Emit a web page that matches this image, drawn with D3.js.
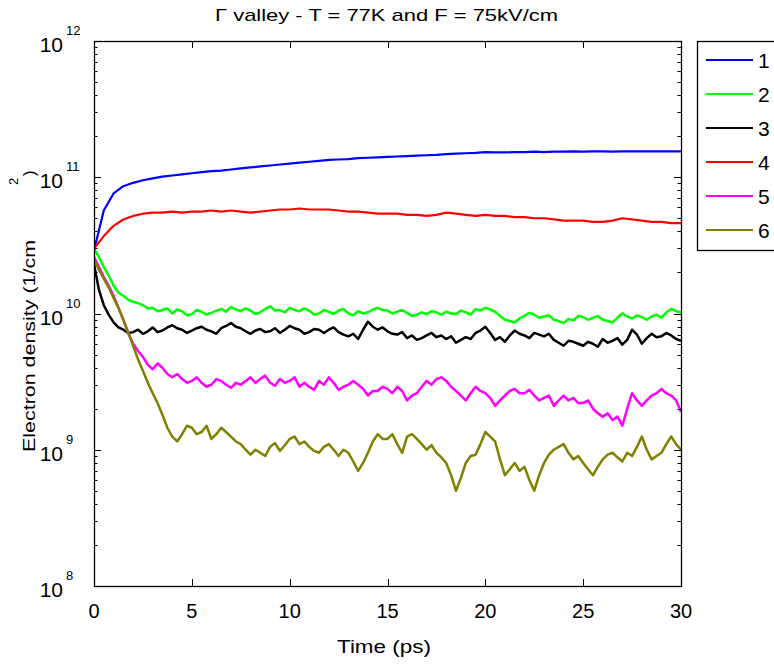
<!DOCTYPE html>
<html>
<head>
<meta charset="utf-8">
<script src="https://cdn.jsdelivr.net/npm/d3@7"></script>
<style>
  html, body { margin: 0; padding: 0; background: #fff; }
  svg { display: block; font-family: "Liberation Sans", Arial, sans-serif; }
</style>
</head>
<body>
<svg id="chart" width="774" height="666"></svg>
<script>
// Sample times (ps): smooth curves every 0.5 ps, noisy curves every 0.25 ps
const timeCoarse = d3.range(0, 30.0001, 0.5);
const timeFine = d3.range(0, 30.0001, 0.25);

// Electron densities in units of 1e9 cm^-2
const densityUnit = 1e9;
const series1 = [29,57,76,86,91,95,98,101,103,105,107,109,111,112,114,116,118,120,122,124,126,128,130,132,134,135,136,138,139,140,141,142,143,144,145,146,148,149,150,151,153,152,152,153,153,154,153,154,154,155,154,155,155,154,155,155,155,155,155,155,155];
const series2 = [30,26,22,19,16,14.2,13.5,12.6,12.2,11.9,11.5,10.9,11.0,10.4,10.6,10.9,10.0,10.7,10.4,9.7,9.9,10.6,10.3,9.8,10.1,10.5,10.8,10.3,11.2,10.7,10.4,10.9,10.5,9.9,10.2,10.8,11.3,10.5,10.6,10.2,11.0,10.6,10.4,10.9,10.5,9.8,10.0,10.6,10.3,9.9,10.5,10.8,10.0,9.7,10.4,10.0,10.2,10.7,11.0,10.6,10.5,10.0,10.3,10.6,10.1,9.6,9.8,10.2,9.9,10.4,10.2,9.8,10.3,10.0,9.9,10.5,10.2,9.8,10.8,10.5,11.0,10.7,10.3,9.6,9.0,8.8,8.6,9.2,9.6,10.1,9.8,9.3,9.5,9.7,9.0,8.8,8.5,9.1,8.9,9.6,9.4,9.0,9.3,9.6,9.0,8.8,8.6,9.3,10.0,9.5,9.2,9.7,9.4,9.0,9.5,9.8,9.3,10.2,10.8,10.4,10.2];
const series3 = [23,15,11.5,9.8,8.6,7.9,7.6,7.2,7.3,7.6,7.1,7.4,7.9,7.3,7.5,7.9,8.2,7.8,7.6,7.2,7.5,7.8,8.0,7.6,7.4,7.1,7.8,8.1,8.5,8.0,7.8,7.4,7.1,7.5,7.7,7.3,7.4,7.8,7.2,7.6,8.1,7.8,7.6,7.1,7.3,7.7,7.6,7.2,7.6,7.9,7.3,7.0,6.8,7.1,6.5,7.6,8.7,8.0,7.6,7.9,7.4,7.1,7.0,7.3,6.6,6.9,6.4,6.6,6.9,7.2,6.7,6.9,6.5,6.8,6.1,6.4,6.7,6.5,7.2,7.5,8.0,7.2,6.4,6.7,6.2,6.9,7.5,7.1,6.9,6.6,7.2,7.0,6.8,7.1,6.4,6.1,5.8,6.3,6.2,6.0,5.8,6.2,6.0,5.7,6.5,6.1,6.3,6.6,5.9,6.4,7.6,7.0,6.0,6.6,7.1,6.7,6.8,7.2,6.9,6.5,6.3];
const series4 = [30,37,44,49,52,54,55,55,56,55,56,56,57,56,57,56,55,56,57,58,58,59,58,58,58,57,56,56,55,54,54,54,53,53,52,53,55,54,53,52,53,52,52,51,51,50,50,49,48,48,48,47,47,48,50,49,48,47,47,46,46];
const series5 = [26,22,18.5,16,13.5,11,9.0,7.2,6.0,5.3,4.8,4.2,3.9,4.3,4.0,3.6,3.4,3.6,3.3,3.1,3.2,3.4,3.1,2.9,3.0,3.3,3.2,3.0,2.85,3.1,3.0,3.2,3.4,3.1,3.3,3.5,3.1,2.95,3.3,3.1,3.2,3.4,2.9,3.1,2.9,2.75,3.2,3.0,3.4,3.1,2.75,2.9,3.0,3.2,3.0,2.8,2.5,2.7,2.7,2.9,2.8,2.6,2.9,2.7,2.3,2.5,2.6,2.9,3.2,3.0,3.3,3.4,3.2,2.9,2.7,2.5,2.3,2.6,2.9,2.7,2.6,2.4,2.1,2.3,2.5,2.7,2.8,2.6,2.6,2.75,2.5,2.3,2.4,2.5,2.1,2.3,2.5,2.3,2.4,2.2,2.2,2.3,2.0,1.85,1.75,1.85,1.65,1.75,1.5,2.0,2.6,2.3,2.1,2.3,2.5,2.6,2.8,2.6,2.5,2.3,1.9];
const series6 = [25,21,18,15.5,13,11,9.0,7.2,5.8,4.6,3.8,3.1,2.6,2.2,1.8,1.45,1.25,1.15,1.3,1.5,1.45,1.3,1.35,1.5,1.2,1.3,1.45,1.35,1.25,1.15,1.1,1.0,0.92,1.0,0.95,0.9,1.05,1.12,0.98,1.08,1.2,1.25,1.1,1.15,1.05,0.98,0.95,1.05,1.1,1.0,0.9,1.0,0.95,0.82,0.7,0.8,0.95,1.15,1.3,1.2,1.2,1.3,1.1,0.95,1.25,1.3,1.2,1.1,1.0,1.08,0.95,0.88,0.8,0.65,0.5,0.62,0.8,0.9,0.92,1.1,1.35,1.25,1.15,0.85,0.65,0.72,0.8,0.7,0.75,0.6,0.5,0.65,0.8,0.92,1.0,1.05,1.1,0.95,0.85,0.9,0.8,0.72,0.65,0.75,0.85,0.92,0.95,0.88,0.82,0.95,0.9,1.05,1.25,1.0,0.85,0.9,0.95,1.1,1.25,1.1,1.0];

const seriesNames = ["1", "2", "3", "4", "5", "6"];
const seriesColors = ["#0000ff", "#00ff00", "#000000", "#ff0000", "#ff00ff", "#808000"];
const seriesValues = [series1, series2, series3, series4, series5, series6];
const seriesTimes = [timeCoarse, timeFine, timeFine, timeCoarse, timeFine, timeFine];
const seriesWidths = [2.2, 2.5, 2.5, 2.2, 2.5, 2.5];

const xTicks = [0, 5, 10, 15, 20, 25, 30];
const yDecades = [8, 9, 10, 11, 12];

const titleText = "\u0393 valley - T = 77K and F = 75kV/cm";
const xLabel = "Time (ps)";
const yLabel = "Electron density (1/cm";

const svg = d3.select("#chart");
const plot = { left: 94, right: 681, top: 41, bottom: 586 };

const x = d3.scaleLinear().domain([0, 30]).range([plot.left, plot.right]);
const y = d3.scaleLog().domain([1e8, 1e12]).range([plot.bottom, plot.top]);

svg.append("clipPath").attr("id", "plotClip")
  .append("rect")
  .attr("x", plot.left).attr("y", plot.top)
  .attr("width", plot.right - plot.left).attr("height", plot.bottom - plot.top);
const curves = svg.append("g").attr("clip-path", "url(#plotClip)");

// Curves
seriesValues.forEach((vals, k) => {
  const times = seriesTimes[k];
  const line = d3.line()
    .x((d, i) => x(times[i]))
    .y(d => y(d * densityUnit));
  curves.append("path")
    .datum(vals)
    .attr("d", line)
    .attr("fill", "none")
    .attr("stroke", seriesColors[k])
    .attr("stroke-width", seriesWidths[k])
    .attr("stroke-linejoin", "round");
});

// Axes box with inward ticks on all four sides
const axes = svg.append("g").attr("stroke", "#000").attr("stroke-width", 1);
axes.append("rect")
  .attr("x", plot.left + 0.5).attr("y", plot.top + 0.5)
  .attr("width", plot.right - plot.left).attr("height", plot.bottom - plot.top)
  .attr("fill", "none").attr("stroke-width", 1.3);

const majorLen = 7, minorLen = 3.5;
xTicks.forEach(t => {
  const px = Math.round(x(t)) + 0.5;
  axes.append("line").attr("x1", px).attr("x2", px).attr("y1", plot.bottom).attr("y2", plot.bottom - majorLen);
  axes.append("line").attr("x1", px).attr("x2", px).attr("y1", plot.top).attr("y2", plot.top + majorLen);
});

yDecades.forEach(e => {
  const py = Math.round(y(Math.pow(10, e))) + 0.5;
  axes.append("line").attr("x1", plot.left).attr("x2", plot.left + majorLen).attr("y1", py).attr("y2", py);
  axes.append("line").attr("x1", plot.right).attr("x2", plot.right - majorLen).attr("y1", py).attr("y2", py);
  if (e < 12) {
    for (let m = 2; m <= 9; m++) {
      const my = Math.round(y(m * Math.pow(10, e))) + 0.5;
      axes.append("line").attr("x1", plot.left).attr("x2", plot.left + minorLen).attr("y1", my).attr("y2", my);
      axes.append("line").attr("x1", plot.right).attr("x2", plot.right - minorLen).attr("y1", my).attr("y2", my);
    }
  }
});

// Tick labels
const xLabels = svg.append("g").attr("font-size", 20).attr("text-anchor", "middle").attr("fill", "#000");
xTicks.forEach(t => {
  xLabels.append("text").attr("x", x(t)).attr("y", 618).text(t);
});

const yLabels = svg.append("g").attr("fill", "#000");
yDecades.forEach(e => {
  const py = y(Math.pow(10, e));
  yLabels.append("text").attr("x", 63).attr("y", py + 11)
    .attr("font-size", 21).attr("text-anchor", "end").text("10");
  yLabels.append("text").attr("x", 66).attr("y", py - 6)
    .attr("font-size", 13).text(e);
});

// Title and axis labels
svg.append("text").attr("x", 215).attr("y", 21)
  .attr("font-size", 17).attr("textLength", 343).attr("lengthAdjust", "spacingAndGlyphs")
  .text(titleText);
svg.append("text").attr("x", 337).attr("y", 653)
  .attr("font-size", 19).attr("textLength", 94).attr("lengthAdjust", "spacingAndGlyphs")
  .text(xLabel);

svg.append("text")
  .attr("transform", "translate(35,452) rotate(-90)")
  .attr("font-size", 17).attr("textLength", 212).attr("lengthAdjust", "spacingAndGlyphs")
  .text(yLabel);
svg.append("text")
  .attr("transform", "translate(18,185) rotate(-90)")
  .attr("font-size", 13).text("2");
svg.append("text")
  .attr("transform", "translate(35,176) rotate(-90)")
  .attr("font-size", 17).text(")");

// Legend
const legend = svg.append("g");
legend.append("rect")
  .attr("x", 697.5).attr("y", 41.5).attr("width", 90).attr("height", 209)
  .attr("fill", "#fff").attr("stroke", "#000").attr("stroke-width", 1.3);
const legendY = d3.scalePoint().domain(seriesNames).range([60, 230]);
seriesNames.forEach((name, k) => {
  const ly = legendY(name);
  legend.append("line")
    .attr("x1", 706).attr("x2", 753).attr("y1", ly).attr("y2", ly)
    .attr("stroke", seriesColors[k]).attr("stroke-width", 2.2);
  legend.append("text")
    .attr("x", 758).attr("y", ly + 8)
    .attr("font-size", 21).text(name);
});
</script>
</body>
</html>
